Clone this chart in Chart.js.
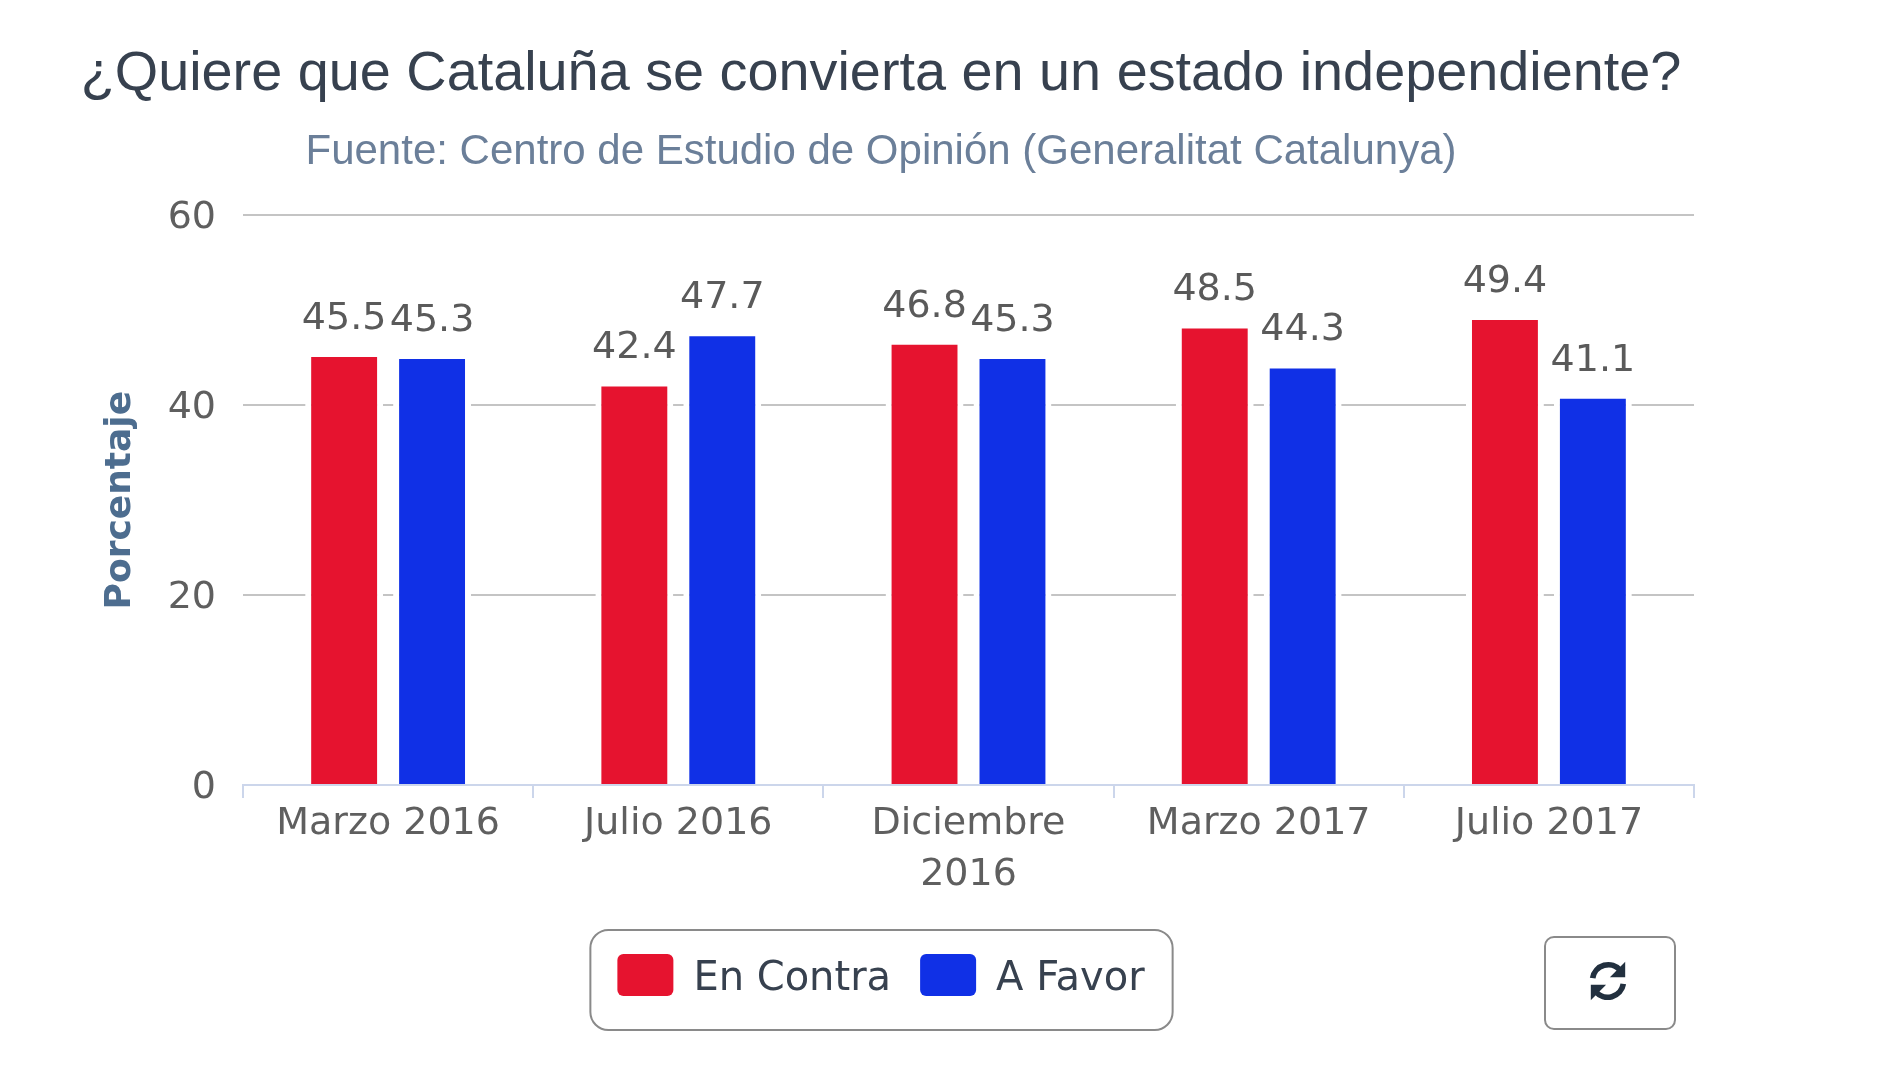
<!DOCTYPE html>
<html lang="es">
<head>
<meta charset="utf-8">
<title>Cataluña</title>
<script src="https://cdn.jsdelivr.net/npm/chart.js@4/dist/chart.umd.js"></script>
<style>
  html, body { margin: 0; background: #fff; }
  #wrap { position: relative; width: 1900px; height: 1069px; overflow: hidden; }
  canvas { position: absolute; left: 0; top: 0; }
  #refresh {
    position: absolute; left: 1544px; top: 936px; width: 132px; height: 94px;
    box-sizing: border-box; background: #fff; border: 2px solid #8a8a8a; border-radius: 10px;
    padding: 0 4px 4px 0; display: flex; align-items: center; justify-content: center;
  }
</style>
</head>
<body>
<div id="wrap">
  <canvas id="chart" width="1700" height="1069"></canvas>
  <button id="refresh" aria-label="Recargar">
    <svg width="44" height="44" viewBox="0 0 46 46">
      <path d="M7 20 A16.5 16.5 0 0 1 36 12" fill="none" stroke="#22303f" stroke-width="6"/>
      <path d="M41 3 L41 19 L25 19 Z" fill="#22303f"/>
      <path d="M39 26 A16.5 16.5 0 0 1 10 34" fill="none" stroke="#22303f" stroke-width="6"/>
      <path d="M5 43 L5 27 L21 27 Z" fill="#22303f"/>
    </svg>
  </button>
</div>
<script>
const categories = ['Marzo 2016', 'Julio 2016', ['Diciembre', '2016'], 'Marzo 2017', 'Julio 2017'];
const enContra = [45.5, 42.4, 46.8, 48.5, 49.4];
const aFavor = [45.3, 47.7, 45.3, 44.3, 41.1];
const yTicks = [0, 20, 40, 60];

const RED = '#e6132f';
const BLUE = '#1030e6';
const tickFont = { family: '"DejaVu Sans"', size: 38, lineHeight: 1.36 };
// white edge around the bars, cuts the grid lines like in the original
const barEdge = { left: 6, right: 6, top: 4, bottom: 0 };

// value labels above each bar, no datalabels plugin available offline
const valueLabels = {
  id: 'valueLabels',
  afterDatasetsDraw(chart) {
    const ctx = chart.ctx;
    ctx.save();
    ctx.font = '38px "DejaVu Sans"';
    ctx.fillStyle = '#5a5a5a';
    ctx.textAlign = 'center';
    ctx.textBaseline = 'bottom';
    chart.data.datasets.forEach((ds, i) => {
      chart.getDatasetMeta(i).data.forEach((bar, j) => {
        ctx.fillText(ds.data[j].toFixed(1), bar.x, bar.y - 15);
      });
    });
    ctx.restore();
  }
};

// y tick labels sit a bit below their grid line, chart.js has no option for that
const yTickLabels = {
  id: 'yTickLabels',
  afterDraw(chart) {
    const axis = chart.scales.y;
    const ctx = chart.ctx;
    ctx.save();
    ctx.font = '38px "DejaVu Sans"';
    ctx.fillStyle = '#5f5f5f';
    ctx.textAlign = 'right';
    ctx.textBaseline = 'middle';
    axis.ticks.forEach((tick, i) => {
      ctx.fillText(String(tick.value), axis.right - 27, axis.getPixelForTick(i) + 3);
    });
    ctx.restore();
  }
};

// rounded frame around the legend, swatches sit a little higher than chart.js puts them
const legendFrame = {
  id: 'legendFrame',
  afterDraw(chart) {
    const boxes = chart.legend.legendHitBoxes;
    const left = Math.min(...boxes.map(b => b.left)) - 27;
    const right = Math.max(...boxes.map(b => b.left + b.width)) + 28;
    const top = boxes[0].top - 29;
    const bottom = boxes[0].top + boxes[0].height + 29;
    const ctx = chart.ctx;
    ctx.save();
    ctx.strokeStyle = '#8a8a8a';
    ctx.lineWidth = 2;
    ctx.beginPath();
    ctx.roundRect(left, top, right - left, bottom - top, 18);
    ctx.stroke();
    chart.data.datasets.forEach((ds, i) => {
      ctx.fillStyle = ds.backgroundColor;
      ctx.beginPath();
      ctx.roundRect(boxes[i].left, boxes[i].top - 5, 56, 42, 6);
      ctx.fill();
    });
    ctx.restore();
  }
};

new Chart(document.getElementById('chart'), {
  type: 'bar',
  data: {
    labels: categories,
    datasets: [
      { label: 'En Contra', data: enContra, backgroundColor: RED, borderColor: '#fff', borderWidth: barEdge, borderSkipped: false },
      { label: 'A Favor', data: aFavor, backgroundColor: BLUE, borderColor: '#fff', borderWidth: barEdge, borderSkipped: false }
    ]
  },
  options: {
    responsive: false,
    animation: false,
    devicePixelRatio: 1,
    categoryPercentage: 0.606,
    barPercentage: 0.886,
    layout: { padding: { top: 41, right: 6, bottom: 58, left: 68 } },
    plugins: {
      title: {
        display: true,
        text: '¿Quiere que Cataluña se convierta en un estado independiente?',
        color: '#37414f',
        font: { family: '"Liberation Sans"', size: 55.8, weight: 'normal' },
        padding: { top: 0, bottom: 19 }
      },
      subtitle: {
        display: true,
        text: 'Fuente: Centro de Estudio de Opinión (Generalitat Catalunya)',
        color: '#6b7f99',
        font: { family: '"Liberation Sans"', size: 42, weight: 'normal' },
        padding: { top: 0, bottom: 38 }
      },
      legend: {
        position: 'bottom',
        labels: {
          boxWidth: 56,
          boxHeight: 42,
          padding: 29,
          color: '#37414f',
          font: { family: '"DejaVu Sans"', size: 40 },
          generateLabels(chart) {
            return chart.data.datasets.map((ds, i) => ({
              text: ds.label,
              fillStyle: 'transparent',
              strokeStyle: 'transparent',
              lineWidth: 0,
              datasetIndex: i,
              fontColor: '#37414f'
            }));
          }
        }
      },
      tooltip: { enabled: false }
    },
    scales: {
      x: {
        border: { color: '#ccd6eb', width: 2 },
        grid: { drawOnChartArea: false, color: '#ccd6eb', lineWidth: 2, tickLength: 13 },
        afterFit(axis) { axis.height = 145; },
        ticks: { color: '#5f5f5f', font: tickFont, padding: 0, maxRotation: 0, autoSkip: false }
      },
      y: {
        min: 0,
        max: 60,
        border: { display: false },
        grid: { color: '#c4c4c4', lineWidth: 2, drawTicks: false },
        afterBuildTicks(axis) { axis.ticks = yTicks.map(v => ({ value: v })); },
        afterFit(axis) { axis.width = 175; },
        ticks: { display: false },
        title: {
          display: true,
          text: 'Porcentaje',
          color: '#4d6d8f',
          font: { family: '"DejaVu Sans"', size: 36, weight: 'bold' },
          padding: { top: 31, bottom: 0 }
        }
      }
    }
  },
  plugins: [valueLabels, yTickLabels, legendFrame]
});
</script>
</body>
</html>
